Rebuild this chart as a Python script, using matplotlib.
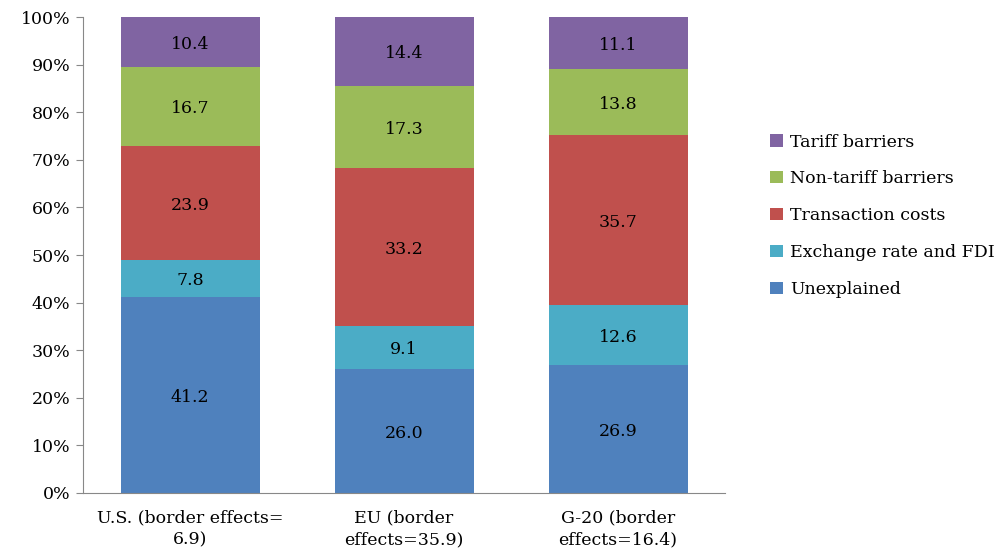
import matplotlib
matplotlib.use("Agg")
import matplotlib.pyplot as plt
import numpy as np

categories = ["U.S. (border effects=\n6.9)", "EU (border\neffects=35.9)", "G-20 (border\neffects=16.4)"]
series_names = ["Unexplained", "Exchange rate and FDI", "Transaction costs", "Non-tariff barriers", "Tariff barriers"]
unexplained = [41.2, 26.0, 26.9]
exchange_fdi = [7.8, 9.1, 12.6]
transaction = [23.9, 33.2, 35.7]
non_tariff = [16.7, 17.3, 13.8]
tariff = [10.4, 14.4, 11.1]
colors = ["#4F81BD", "#4BACC6", "#C0504D", "#9BBB59", "#8064A2"]

plt.rcParams['font.family'] = ['DejaVu Serif']
FS = 12.5

fig = plt.figure(figsize=(9.97, 5.58), dpi=100)
ax = fig.add_axes([0.0833, 0.1165, 0.644, 0.853])

series = [unexplained, exchange_fdi, transaction, non_tariff, tariff]
x = np.arange(len(categories))
bottom = np.zeros(len(categories))
handles = []
for vals, name, c in zip(series, series_names, colors):
    vals = np.array(vals)
    b = ax.bar(x, vals, 0.65, bottom=bottom, color=c, label=name, edgecolor='none')
    handles.append(b)
    for xi, v, bt in zip(x, vals, bottom):
        ax.text(xi, bt + v / 2 - 0.5, f"{v:.1f}", ha='center', va='center', fontsize=FS, color='black')
    bottom = bottom + vals

ax.set_xlim(-0.5, 2.5)
ax.set_ylim(0, 100)
ax.set_yticks(np.arange(0, 101, 10))
ax.set_yticklabels([f"{v}%" for v in range(0, 101, 10)], fontsize=FS)
ax.set_xticks(x)
ax.set_xticklabels(categories, fontsize=FS, linespacing=1.4)
ax.tick_params(axis='x', length=0, pad=12)
ax.tick_params(axis='y', length=5, color='#888888', pad=4)
for s in ['top', 'right']:
    ax.spines[s].set_visible(False)
for s in ['left', 'bottom']:
    ax.spines[s].set_color('#888888')

leg = fig.legend(handles[::-1], series_names[::-1], loc='center left',
                 bbox_to_anchor=(0.757, 0.613), frameon=False, fontsize=FS,
                 handlelength=0.7, handleheight=0.7, handletextpad=0.45, labelspacing=1.15)

fig.savefig("out.png", dpi=100)
